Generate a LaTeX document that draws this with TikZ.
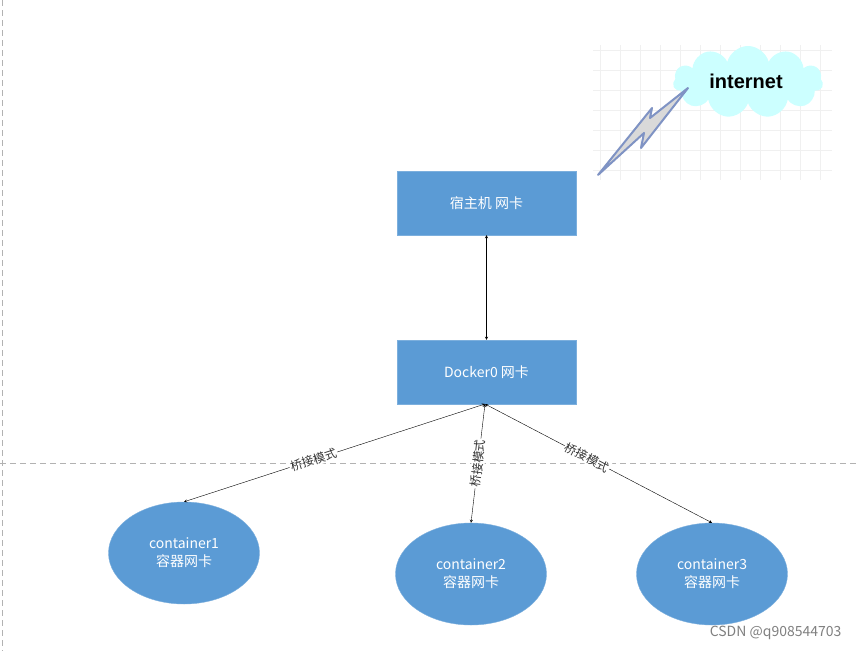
\documentclass[tikz,border=0pt]{standalone}
\usepackage{fontspec}
\setmainfont{Noto Sans CJK SC}
\newfontfamily\arialf{Liberation Sans}
\usetikzlibrary{shapes.symbols,shapes.geometric}
\definecolor{bl}{HTML}{5B9BD5}
\definecolor{cl}{HTML}{CCFFFF}
\definecolor{lt}{HTML}{7F93C4}
\begin{document}
\begin{tikzpicture}[x=1pt,y=-1pt,
 box/.style={draw=bl!80!white,fill=bl,text=white,minimum width=179pt,minimum height=64pt,inner sep=0pt,font=\fontsize{14}{16}\selectfont},
 ell/.style={ellipse,draw=bl!80!white,fill=bl,text=white,minimum width=151pt,minimum height=102pt,inner sep=0pt,align=center,font=\fontsize{14}{18}\selectfont},
 con/.style={<->,>=stealth,thin},
 lab/.style={fill=white,inner sep=1pt,font=\fontsize{12}{12}\selectfont,text=black!80}]
\useasboundingbox (0,0) rectangle (857,651);
\fill[white] (0,0) rectangle (857,651);
\draw[dashed,gray!60,dash pattern=on 6pt off 4pt] (2,0) -- (2,651);
\draw[dashed,gray!60,dash pattern=on 6pt off 4pt] (0,463) -- (857,463);
% internet area
\foreach \gx in {600,620,...,830} \draw[gray!12] (\gx,45) -- (\gx,180);
\foreach \gy in {50,70,...,180} \draw[gray!12] (593,\gy) -- (832,\gy);
\node[cloud,cloud puffs=11,aspect=2.6,fill=cl,draw=none,minimum width=150pt,minimum height=72pt] (cloud) at (748,82) {};
\node[font=\arialf\bfseries\fontsize{20}{22}\selectfont] (inet) at (746,81) {internet};
\coordinate (ls) at (598,175);
\coordinate (le) at (688,88);
\draw[fill=gray!30,draw=lt,line width=2pt,line join=round] (ls) -- (644,133) -- (641,148) -- (le) -- (650,118) -- (652,108) -- cycle;
\node[box] (host) at (486.5,203) {宿主机 网卡};
\node[box] (dock) at (486.5,372) {Docker0 网卡};
\node[ell] (c1) at (184,553) {container1\\容器网卡};
\node[ell] (c2) at (471,574) {container2\\容器网卡};
\node[ell] (c3) at (712,574) {container3\\容器网卡};
\coordinate (dp) at (485,404);
\draw[con] (host.south) -- (dock.north);
\draw[con] (dp) -- node[lab,sloped,pos=0.57]{桥接模式} (c1.north);
\draw[con] (dp) -- node[lab,sloped,pos=0.5]{桥接模式} (c2.north);
\draw[con] (dp) -- node[lab,sloped,pos=0.45]{桥接模式} (c3.north);
\node[text=gray,font=\fontsize{14}{16}\selectfont,anchor=east] (wm) at (845,633) {CSDN @q908544703};
\end{tikzpicture}
\end{document}
